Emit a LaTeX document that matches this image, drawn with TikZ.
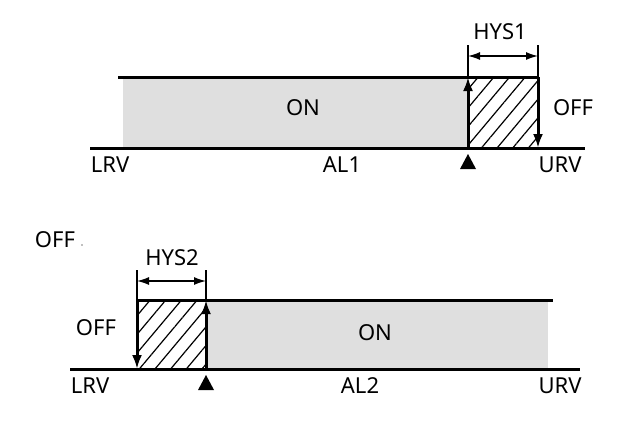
\documentclass[tikz,border=0pt]{standalone}
\usepackage{fontspec}
\setmainfont{Noto Sans}
\usetikzlibrary{patterns.meta,arrows.meta}
\begin{document}
\begin{tikzpicture}[x=1pt,y=-1pt,
  lbl/.style={font=\fontsize{22}{26}\selectfont,inner sep=0pt},
  thick line/.style={line width=3pt},
  hatch/.style={pattern={Lines[angle=50,distance=12pt,line width=1.2pt]}},
  arr/.style={line width=3pt,-{Latex[length=14pt,width=10pt]}},
  dim/.style={line width=1.4pt,{Latex[length=12pt,width=8pt]}-{Latex[length=12pt,width=8pt]}},
  tri/.style={fill=black}]
\useasboundingbox (0,0) rectangle (631,423);
% top
\fill[gray!25] (123,77) rectangle (468,148);
\fill[hatch] (468,77) rectangle (538,148);
\draw[thick line] (118,77) -- (538,77);
\draw[thick line] (90,148) -- (585,148);
\coordinate (a1b) at (468,148); \coordinate (a1t) at (468,77);
\coordinate (b1t) at (538,77); \coordinate (b1b) at (538,148);
\draw[arr] (a1b) -- (a1t);
\draw[arr] (b1t) -- (b1b);
\draw[line width=1.4pt] (468,45) -- (a1t) (538,45) -- (b1t);
\coordinate (h1l) at (468,56); \coordinate (h1r) at (538,56);
\draw[dim] (h1l) -- (h1r);
\fill[tri] (460,169) -- (476,169) -- (468,154) -- cycle;
\node[lbl] (hys1) at (500,32) {HYS1};
\node[lbl] (on1) at (303,108) {ON};
\node[lbl] (off1) at (573,108) {OFF};
\node[lbl] (lrv1) at (110,165) {LRV};
\node[lbl] (al1) at (342,165) {AL1};
\node[lbl] (urv1) at (560,165) {URV};
% bottom
\fill[gray!25] (206,300) rectangle (548,369);
\fill[hatch] (137,300) rectangle (206,369);
\draw[thick line] (137,300) -- (553,300);
\draw[thick line] (70,369) -- (580,369);
\coordinate (a2t) at (137,300); \coordinate (a2b) at (137,369);
\coordinate (b2b) at (206,369); \coordinate (b2t) at (206,300);
\draw[arr] (a2t) -- (a2b);
\draw[arr] (b2b) -- (b2t);
\draw[line width=1.4pt] (137,270) -- (a2t) (206,270) -- (b2t);
\coordinate (h2l) at (137,281); \coordinate (h2r) at (206,281);
\draw[dim] (h2l) -- (h2r);
\fill[tri] (198,390) -- (214,390) -- (206,375) -- cycle;
\node[lbl] (hys2) at (172,258) {HYS2};
\node[lbl] (on2) at (375,333) {ON};
\node[lbl] (off2) at (96,328) {OFF};
\node[lbl] (off3) at (55,240) {OFF};
\fill[gray] (82,245) circle (0.8);
\node[lbl] (lrv2) at (90,386) {LRV};
\node[lbl] (al2) at (360,386) {AL2};
\node[lbl] (urv2) at (560,386) {URV};
\end{tikzpicture}
\end{document}
